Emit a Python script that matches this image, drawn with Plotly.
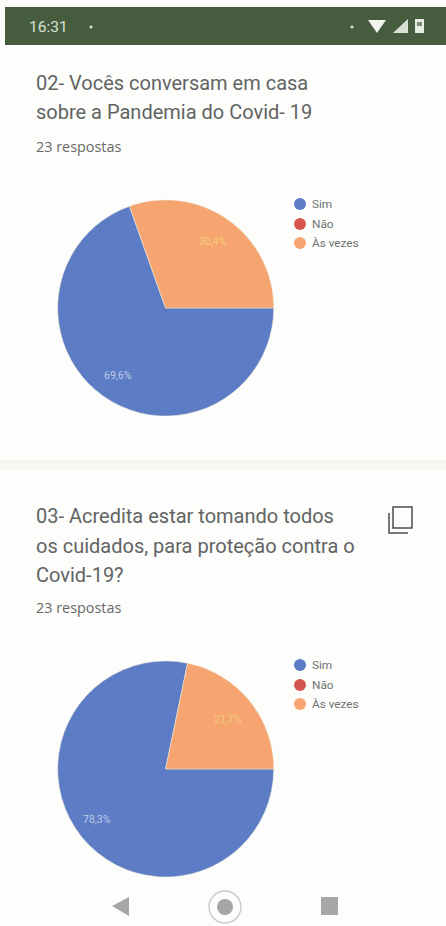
import plotly.graph_objects as go

W, H = 446, 926
categories = ["Sim", "Não", "Às vezes"]
q2_values = [16, 0, 7]
q3_values = [18, 0, 5]
colors = ["#5d7cc6", "#d5564f", "#f6a470"]
q2_lines = ["02- Vocês conversam em casa", "sobre a Pandemia do Covid- 19"]
q3_lines = ["03- Acredita estar tomando todos", "os cuidados, para proteção contra o", "Covid-19?"]
responses = "23 respostas"
clock = "16:31"

def X(p): return p / W
def Y(p): return 1 - p / H
GRAY = "#a4a7a5"
BG = "#fdfdfc"

fig = go.Figure()
shapes, notes = [], []

def text(x, y, s, size, color, anchor="left", family="Roboto"):
    notes.append(dict(x=X(x), y=Y(y), xref="paper", yref="paper", text=s, showarrow=False,
                      xanchor=anchor, yanchor="middle", align="left", borderpad=0, borderwidth=0,
                      font=dict(size=size, color=color, family=family)))

def rect(x0, y0, x1, y1, color):
    shapes.append(dict(type="rect", xref="paper", yref="paper", x0=X(x0), x1=X(x1), y0=Y(y0), y1=Y(y1),
                       fillcolor=color, line=dict(width=0), layer="below"))

def circle(cx, cy, r, color, line=None, lw=0):
    shapes.append(dict(type="circle", xref="paper", yref="paper", x0=X(cx-r), x1=X(cx+r), y0=Y(cy-r), y1=Y(cy+r),
                       fillcolor=color, line=dict(width=lw, color=line or color)))

def poly(points, color):
    path = "M " + " L ".join(f"{X(a):.5f} {Y(b):.5f}" for a, b in points) + " Z"
    shapes.append(dict(type="path", xref="paper", yref="paper", path=path, fillcolor=color, line=dict(width=0)))

def pie(values, cy, label_pos, legend_y):
    cx, r = 165.7, 108
    fig.add_trace(go.Pie(labels=categories, values=values, sort=False, direction="clockwise", rotation=90,
                         marker=dict(colors=colors, line=dict(color="#e9e4d2", width=0.5)),
                         textinfo="none", showlegend=False, hoverinfo="label+percent",
                         domain=dict(x=[X(cx-r), X(cx+r)], y=[Y(cy+r), Y(cy-r)])))
    total = sum(values)
    for i, (x, y, col) in zip((0, 2), label_pos):
        pct = f"{values[i] / total * 100:.1f}%".replace(".", ",")
        text(x, y, pct, 10.5, col, "center")
    for cat, col, ly in zip(categories, colors, legend_y):
        circle(300, ly, 6, col)
        text(312, ly, cat, 11.8, "#6e7370")

rect(0, 0, W, H, BG)
rect(0, 460, W, 470, "#f6f7f3")
rect(5, 7, W, 45, "#465c3e")
text(29, 27, clock, 15.5, "#d9e0d5")
circle(91, 27, 1.6, "#d9e0d5")
circle(352, 27, 1.6, "#d9e0d5")
poly([(368, 20), (386, 20), (377, 33)], "#f2f5f0")
poly([(393, 33), (408, 33), (408, 19)], "#d9e0d5")
rect(415, 19, 424, 33, "#e6ebe3")
rect(417, 22, 422, 26, "#7b8c74")

for i, s in enumerate(q2_lines):
    text(36, 83 + i * 29, s, 20, "#616463")
text(36, 146, responses, 14.4, "#666967", family="Open Sans")
pie(q2_values, 308, [(118, 375, "#bccbe6"), (213, 242, "#f4cf7a")], [204, 224, 243])

for i, s in enumerate(q3_lines):
    text(36, 516 + i * 29.5, s, 20, "#616463")
text(36, 607, responses, 14.4, "#666967", family="Open Sans")
pie(q3_values, 769, [(97, 819, "#bccbe6"), (228, 719, "#f4cf7a")], [665, 685, 704])

# copy icon
shapes.append(dict(type="rect", xref="paper", yref="paper", x0=X(393), x1=X(412), y0=Y(507), y1=Y(528),
                   line=dict(color="#4a4d4c", width=1.5), fillcolor="rgba(0,0,0,0)"))
shapes.append(dict(type="path", xref="paper", yref="paper",
                   path=f"M {X(389):.5f} {Y(513):.5f} L {X(389):.5f} {Y(533):.5f} L {X(408):.5f} {Y(533):.5f}",
                   line=dict(color="#4a4d4c", width=1.5)))

# navigation bar
poly([(112, 906), (129, 897), (129, 916)], GRAY)
circle(225, 907, 16, "rgba(0,0,0,0)", "#c6c8c6", 1.3)
circle(225, 907, 8, GRAY)
rect(321, 897, 338, 915, GRAY)

fig.update_layout(width=W, height=H, margin=dict(l=0, r=0, t=0, b=0), paper_bgcolor=BG,
                  plot_bgcolor=BG, shapes=shapes, annotations=notes, showlegend=False)
fig.write_html("out.html", config=dict(displayModeBar=False),
               post_script="document.body.style.margin='0';document.body.style.overflow='hidden';")
